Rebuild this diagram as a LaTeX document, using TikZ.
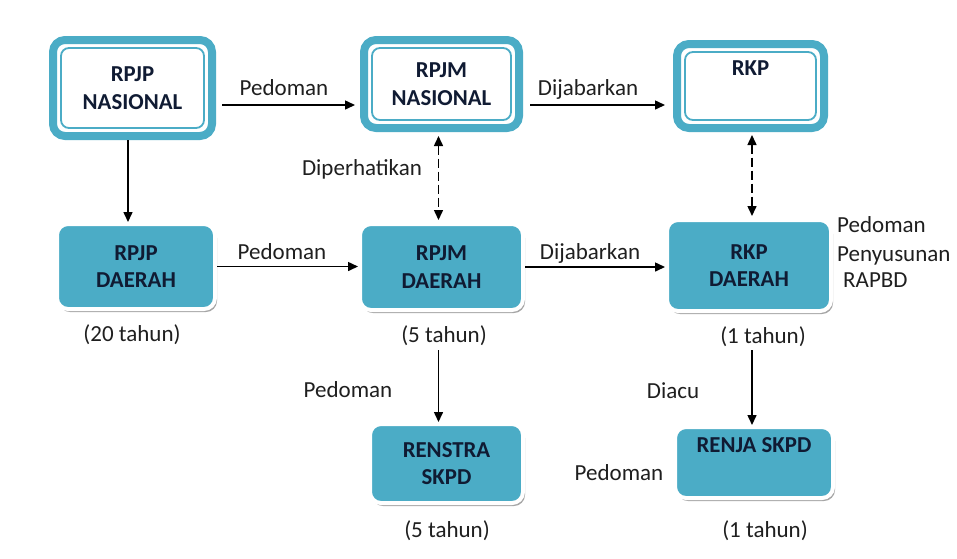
\documentclass[tikz,border=0pt]{standalone}
\usepackage{fontspec}
\setmainfont{Carlito}
\usetikzlibrary{arrows.meta,shadows,calc}
\definecolor{teal1}{HTML}{4BACC6}
\definecolor{boxtxt}{HTML}{101B33}
\definecolor{lbl}{HTML}{1F1F1F}
\tikzset{
  boxfont/.style={font=\bfseries\fontsize{22.8}{27.5}\selectfont, text=boxtxt, align=center},
  dbox/.style={boxfont, draw=teal1, line width=8pt, rounded corners=12pt, fill=white},
  innerline/.style={draw=teal1, line width=1.8pt, rounded corners=8pt},
  tealbox/.style={boxfont, draw=white, line width=4pt, rounded corners=11pt, fill=teal1,
    drop shadow={shadow xshift=2pt, shadow yshift=-3pt, opacity=0.35, fill=black}},
  lab/.style={font=\fontsize{23}{27.5}\selectfont, text=lbl, inner sep=0pt, anchor=base},
  labl/.style={lab, anchor=base west},
  arr/.style={line width=1.5pt, -{Triangle[length=10pt,width=9pt]}},
  darr/.style={line width=1.5pt, dash pattern=on 9pt off 4pt,
    {Triangle[length=10pt,width=9pt]}-{Triangle[length=10pt,width=9pt]}},
}
\begin{document}
\begin{tikzpicture}[x=1pt,y=-1pt]
\useasboundingbox[fill=white] (0,0) rectangle (957,558);

% top row (double border)
\node[dbox, minimum width=159pt, minimum height=96pt] (RPJPN) at (132.5,88) {RPJP\\NASIONAL};
\node[dbox, minimum width=155pt, minimum height=88pt] (RPJMN) at (441.5,84) {RPJM\\NASIONAL};
\node[dbox, minimum width=147pt, minimum height=84pt] (RKP) at (750.5,86) {RKP\\\strut};
\foreach \n in {RPJPN,RPJMN,RKP}{
  \draw[innerline] ([shift={(12pt,-12pt)}]\n.north west) rectangle ([shift={(-12pt,12pt)}]\n.south east);
}

% filled boxes
\node[tealbox, minimum width=158pt, minimum height=85pt] (RPJPD) at (136,266.5) {RPJP\\DAERAH};
\node[tealbox, minimum width=163pt, minimum height=86pt] (RPJMD) at (441.5,267) {RPJM\\DAERAH};
\node[tealbox, minimum width=164pt, minimum height=91pt] (RKPD) at (749,265.5) {RKP\\DAERAH};
\node[tealbox, minimum width=153pt, minimum height=79pt] (RENSTRA) at (446.5,463.5) {RENSTRA\\SKPD};
\node[tealbox, minimum width=158pt, minimum height=71pt] (RENJA) at (754,462.5) {RENJA SKPD\\\strut};

% arrows
\coordinate (a1) at ([xshift=-4.5pt]RPJPN.south);
\draw[arr] (a1) -- (a1 |- RPJPD.north);

\coordinate (pa) at ([yshift=-17pt]RPJPN.east);
\draw[arr, shorten <=6pt, shorten >=5pt] (pa) -- (pa -| RPJMN.west);
\coordinate (pb) at ([yshift=-21pt]RPJMN.east);
\draw[arr, shorten <=7pt, shorten >=8pt] (pb) -- (pb -| RKP.west);

\draw[arr] (RPJPD.east) -- (RPJPD.east -| RPJMD.west);
\draw[arr] (RPJMD.east) -- (RPJMD.east -| RKPD.west);

\coordinate (d1) at ([xshift=-3pt]RPJMN.south);
\draw[darr, shorten <=4pt, shorten >=2pt] (d1) -- (d1 |- RPJMD.north);
\coordinate (d2) at ([xshift=1.5pt]RKP.south);
\draw[darr, shorten <=3pt, shorten >=2pt] (d2) -- (d2 |- RKPD.north);

\coordinate (e1) at ([xshift=-3pt,yshift=-38pt]RPJMD.south);
\draw[arr] (e1) -- (e1 |- RENSTRA.north);
\coordinate (e2) at ([xshift=3pt,yshift=-37pt]RKPD.south);
\draw[arr] (e2) -- (e2 |- RENJA.north);

% labels
\node[lab] (l1) at (284,95) {Pedoman};
\node[lab] (l2) at (588,95) {Dijabarkan};
\node[lab] (l3) at (362,175) {Diperhatikan};
\node[lab] (l4) at (282,259) {Pedoman};
\node[lab] (l5) at (590,259) {Dijabarkan};
\node[labl] (l6) at (837,232) {Pedoman};
\node[labl] (l7) at (837,261) {Penyusunan};
\node[labl] (l8) at (843,287) {RAPBD};
\node[lab] (t1) at (132,341) {(20 tahun)};
\node[lab] (t2) at (444,342) {(5 tahun)};
\node[lab] (t3) at (763,343) {(1 tahun)};
\node[lab] (l9) at (348,397) {Pedoman};
\node[lab] (l10) at (673,398) {Diacu};
\node[lab] (l11) at (619,480) {Pedoman};
\node[lab] (t4) at (447,537) {(5 tahun)};
\node[lab] (t5) at (765,537) {(1 tahun)};
\end{tikzpicture}
\end{document}
